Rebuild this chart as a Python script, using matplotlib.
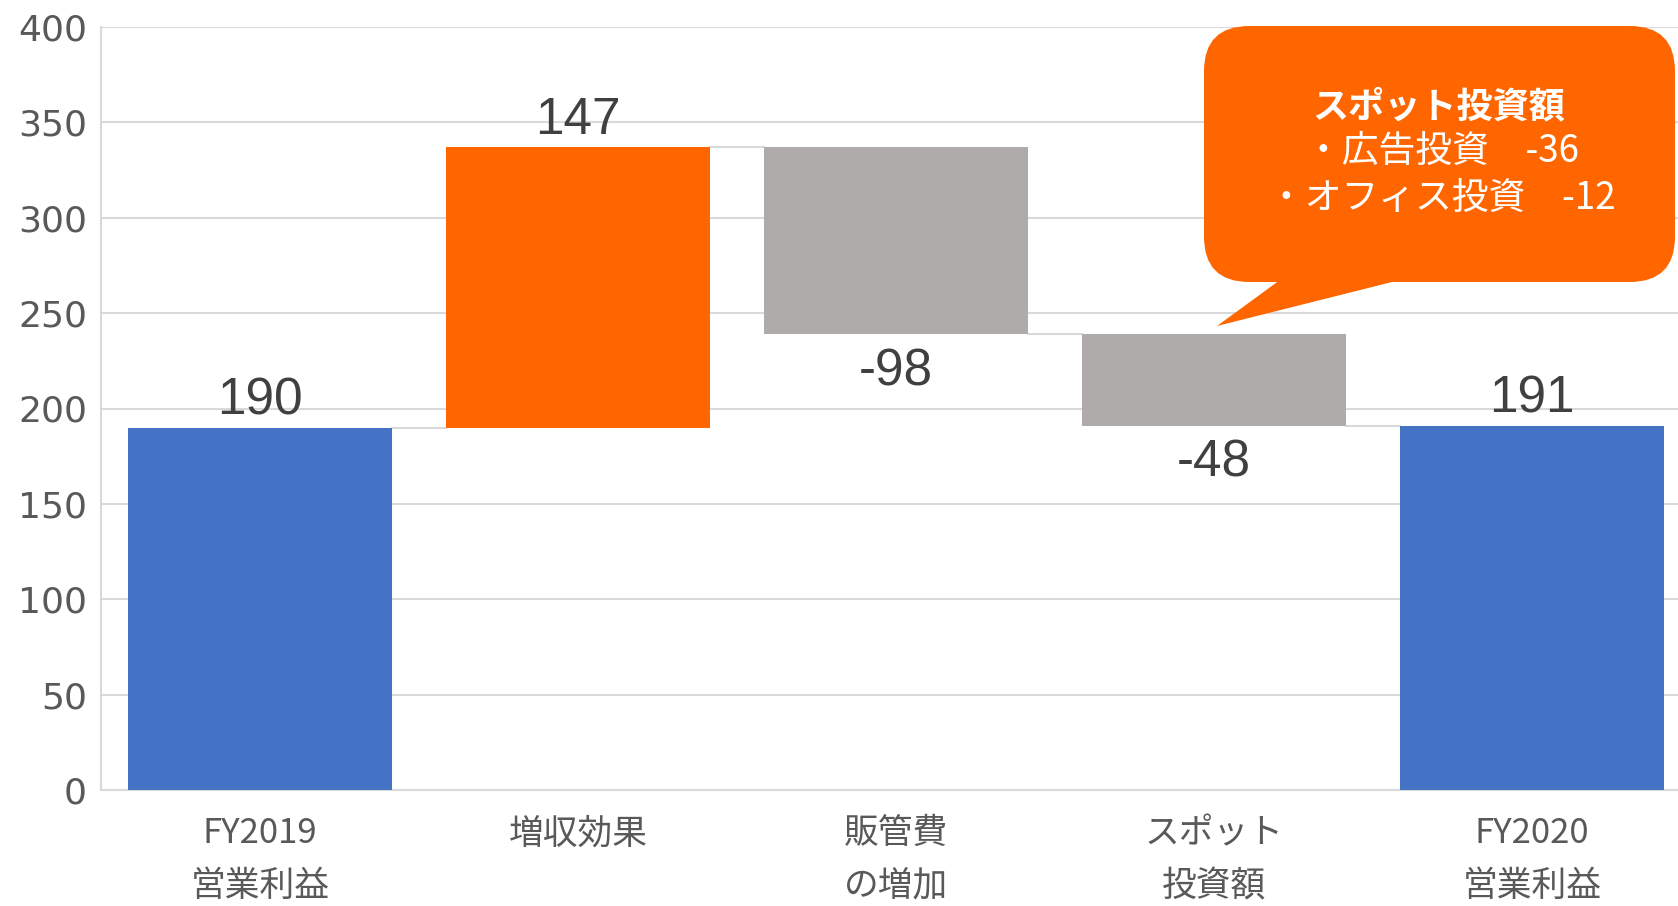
import matplotlib
matplotlib.use("Agg")
import matplotlib.pyplot as plt
from matplotlib.patches import FancyBboxPatch, Polygon

categories = ["FY2019\n営業利益", "増収効果", "販管費\nの増加", "スポット\n投資額", "FY2020\n営業利益"]
changes = [190, 147, -98, -48, 191]
kinds = ["total", "delta", "delta", "delta", "total"]
label_texts = ["190", "147", "-98", "-48", "191"]
y_ticks = [0, 50, 100, 150, 200, 250, 300, 350, 400]
callout_title = "スポット投資額"
callout_lines = ["・広告投資　-36", "・オフィス投資　-12"]

colors = {"total": "#4472C4", "up": "#FF6600", "down": "#AFABAB"}

W, H = 1678, 906
fig = plt.figure(figsize=(W / 100, H / 100), dpi=100)
ax = fig.add_axes([101 / W, 1 - 790 / H, 1590 / W, 763 / H])

# compute waterfall
bottoms, heights, cols, levels = [], [], [], []
running = 0
for v, k in zip(changes, kinds):
    if k == "total":
        bottoms.append(0)
        heights.append(v)
        cols.append(colors["total"])
        running = v
    else:
        if v >= 0:
            bottoms.append(running)
            cols.append(colors["up"])
        else:
            bottoms.append(running + v)
            cols.append(colors["down"])
        heights.append(abs(v))
        running += v
    levels.append(running)

xs = list(range(len(categories)))
bw = 0.83
ax.bar(xs, heights, bottom=bottoms, width=bw, color=cols, zorder=3, linewidth=0)

# connectors
for i in range(len(xs) - 1):
    ax.plot([xs[i] + bw / 2, xs[i + 1] - bw / 2], [levels[i], levels[i]],
            color="#D9D9D9", lw=1.5, zorder=2)

# labels
for i, (v, k) in enumerate(zip(changes, kinds)):
    top = bottoms[i] + heights[i]
    if k == "total" or v >= 0:
        ax.annotate(label_texts[i], (xs[i], top), xytext=(0, 19), textcoords="offset points",
                    ha="center", va="center", fontsize=37, color="#404040",
                    family="Liberation Sans")
    else:
        ax.annotate(label_texts[i], (xs[i], bottoms[i]), xytext=(0, -27), textcoords="offset points",
                    ha="center", va="center", fontsize=37, color="#404040",
                    family="Liberation Sans")

ax.set_xlim(-0.5, 4.5)
ax.set_ylim(0, 400)
ax.set_yticks(y_ticks)
ax.set_yticklabels([str(t) for t in y_ticks], fontsize=26, color="#595959", family="DejaVu Sans")
ax.set_xticks(xs)
ax.set_xticklabels(categories, fontsize=25, color="#595959",
                   family=["Noto Sans CJK JP", "DejaVu Sans"], linespacing=1.65)
ax.tick_params(axis="both", length=0)
ax.tick_params(axis="y", pad=10)
ax.tick_params(axis="x", pad=19)
ax.grid(axis="y", color="#D9D9D9", lw=1.5, zorder=0)
for s in ["top", "right"]:
    ax.spines[s].set_visible(False)
for s in ["left", "bottom"]:
    ax.spines[s].set_color("#D9D9D9")
    ax.spines[s].set_linewidth(1.5)

# callout
def fx(px):
    return px / W

def fy(py):
    return 1 - py / H

box = FancyBboxPatch((fx(1204), fy(282)), fx(1675) - fx(1204), fy(26) - fy(282),
                     boxstyle="round,pad=0,rounding_size=0.027",
                     transform=fig.transFigure, facecolor="#FF6600", edgecolor="none",
                     mutation_aspect=W / H, zorder=5)
fig.patches.append(box)
tail = Polygon([(fx(1280), fy(280)), (fx(1400), fy(280)), (fx(1217), fy(326))],
               closed=True, transform=fig.transFigure, facecolor="#FF6600",
               edgecolor="none", zorder=5)
fig.patches.append(tail)
fig.text(fx(1439), fy(107), callout_title, ha="center", va="center", fontsize=26,
         fontweight="bold", color="white", family=["Noto Sans CJK JP", "DejaVu Sans"], zorder=6)
fig.text(fx(1442), fy(175), "\n".join(callout_lines), ha="center", va="center", fontsize=26.5,
         color="white", family=["Noto Sans CJK JP", "DejaVu Sans"], linespacing=1.25,
         multialignment="center", zorder=6)

fig.savefig("out.png", dpi=100)
